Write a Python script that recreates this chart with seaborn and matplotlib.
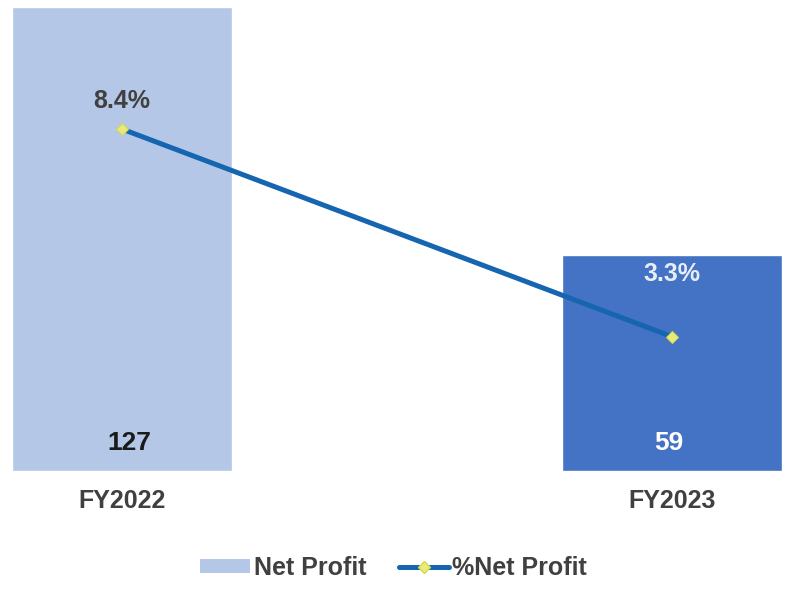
import numpy as np
import matplotlib
matplotlib.use("Agg")
import matplotlib.pyplot as plt
import seaborn as sns
from matplotlib.patches import Patch
from matplotlib.lines import Line2D

years = ["FY2022", "FY2023"]
net_profit = [127, 59]
pct_net_profit = [8.4, 3.3]
bar_colors = ["#b4c7e7", "#4472c4"]

sns.set_theme(style="white")
plt.rcParams['font.family'] = ['Liberation Sans', 'DejaVu Sans']

fig = plt.figure(figsize=(7.87, 5.89), dpi=100)
ax = fig.add_axes([0, 1 - 471 / 589, 1, 471 / 589])

sns.barplot(x=years, y=net_profit, hue=years, palette=bar_colors,
            width=0.4, legend=False, ax=ax, saturation=1)
ax.set_xlim(-122 / 550, (787 - 122) / 550)
ax.set_ylim(0, 128.9)
ax.set_yticks([])
ax.set_xlabel("")
ax.set_ylabel("")
ax.tick_params(axis="x", length=0, pad=13, labelsize=18, labelcolor="#404040")
for lbl in ax.get_xticklabels():
    lbl.set_fontweight("bold")
for s in ax.spines.values():
    s.set_visible(False)

# value labels inside bars
text_cols = ["#1a1a1a", "white"]
for i, v in enumerate(net_profit):
    ax.annotate(f"{v}", (i, 0), xytext=(5 if i == 0 else -2, 20), textcoords="offset points",
                ha="center", va="center", fontsize=19, fontweight="bold", color=text_cols[i])

ax2 = ax.twinx()
sns.lineplot(x=np.arange(len(years)), y=pct_net_profit, ax=ax2, color="#1565b0",
             linewidth=3.6, marker="D", markersize=6, markerfacecolor="#e8ea7a",
             markeredgecolor="#d6d650", zorder=3)
ax2.set_ylim(0, 11.57)
ax2.set_yticks([])
ax2.set_ylabel("")
for s in ax2.spines.values():
    s.set_visible(False)

pct_cols = ["#404040", "#e8eef8"]
for i, v in enumerate(pct_net_profit):
    ax2.annotate(f"{v}%", (i, v), xytext=(0, 20 if i == 0 else 45), textcoords="offset points",
                 ha="center", va="center", fontsize=18, fontweight="bold", color=pct_cols[i])

handles = [
    Patch(facecolor=bar_colors[0], edgecolor="none"),
    Line2D([0], [0], color="#1565b0", linewidth=3.6, marker="D", markersize=6,
           markerfacecolor="#e8ea7a", markeredgecolor="#d6d650"),
]
leg = fig.legend(handles, ["Net Profit", "%Net Profit"], loc="center",
                 bbox_to_anchor=(0.5, 1 - 568 / 589), ncol=2, frameon=False,
                 handlelength=2.0, handleheight=0.45, handletextpad=0.15, columnspacing=1.3,
                 prop={"size": 18, "weight": "bold"})
for t in leg.get_texts():
    t.set_color("#404040")

fig.savefig("out.png", dpi=100, facecolor="white")
